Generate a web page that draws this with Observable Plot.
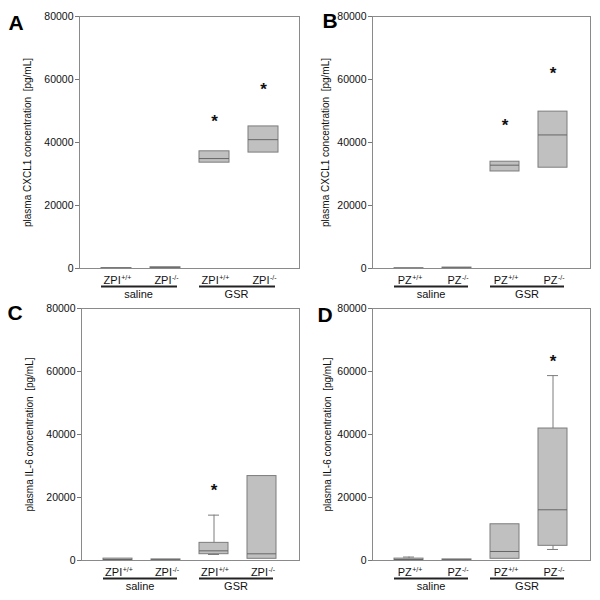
<!DOCTYPE html>
<html><head><meta charset="utf-8">
<script src="https://cdn.jsdelivr.net/npm/d3@7"></script>
<script src="https://cdn.jsdelivr.net/npm/@observablehq/plot@0.6"></script>
<style>
body{margin:0;background:#fff;}
#wrap{position:relative;width:600px;height:600px;font-family:"Liberation Sans",Arial,sans-serif;}
.panel{position:absolute;}
</style></head><body><div id="wrap"></div>
<script>
// ---- data ----
const categories = ["saline:+/+", "saline:-/-", "GSR:+/+", "GSR:-/-"];
const genotypes = ["+/+", "-/-", "+/+", "-/-"];
const groupNames = ["saline", "GSR"];
const groupStart = ["saline:+/+", "GSR:+/+"];
const groupEnd = ["saline:-/-", "GSR:-/-"];
const yTicks = [0, 20000, 40000, 60000, 80000];
const yDomain = [0, 80000];

const panelLetters = ["A", "B", "C", "D"];
const geneNames = ["ZPI", "PZ", "ZPI", "PZ"];
const yLabels = [
  "plasma CXCL1 concentration\u00a0 [pg/mL]",
  "plasma CXCL1 concentration\u00a0 [pg/mL]",
  "plasma IL-6 concentration\u00a0 [pg/mL]",
  "plasma IL-6 concentration\u00a0 [pg/mL]"
];

// panel A (CXCL1, ZPI)
const q1A = [0, 100, 33600, 36800];
const medA = [60, 200, 34900, 40900];
const q3A = [150, 400, 37200, 45100];
const loA = [null, null, null, null];
const hiA = [null, null, null, null];
const starA = [null, null, 47600, 57800];

// panel B (CXCL1, PZ)
const q1B = [0, 50, 30800, 32000];
const medB = [50, 150, 32800, 42400];
const q3B = [100, 300, 33900, 49800];
const loB = [null, null, null, null];
const hiB = [null, null, null, null];
const starB = [null, null, 46300, 62600];

// panel C (IL-6, ZPI)
const q1C = [150, 100, 2000, 540];
const medC = [300, 200, 3070, 2120];
const q3C = [600, 350, 5600, 26800];
const loC = [null, null, 1900, null];
const hiC = [null, null, 14400, null];
const starC = [null, null, 22950, null];

// panel D (IL-6, PZ)
const q1D = [150, 100, 540, 4660];
const medD = [300, 200, 2860, 16100];
const q3D = [600, 350, 11500, 41900];
const loD = [null, null, null, 3500];
const hiD = [1100, null, null, 58700];
const starD = [null, null, null, 64000];

// ---- layout (styling only) ----
const layouts = [
  {left: 0,   top: 0,   mL: 79, mR: 1,  mT: 16, mB: 32, labelDx: -52, letterDx: -71, letterDy: -1},
  {left: 300, top: 0,   mL: 72, mR: 10, mT: 16, mB: 32, labelDx: -47, letterDx: -50, letterDy: -3},
  {left: 0,   top: 300, mL: 81, mR: 1,  mT: 8,  mB: 40, labelDx: -52, letterDx: -74, letterDy: -3},
  {left: 300, top: 300, mL: 72, mR: 10, mT: 8,  mB: 40, labelDx: -45, letterDx: -55, letterDy: -1}
];

const panelData = [
  [q1A, medA, q3A, loA, hiA, starA],
  [q1B, medB, q3B, loB, hiB, starB],
  [q1C, medC, q3C, loC, hiC, starC],
  [q1D, medD, q3D, loD, hiD, starD]
];

const FONT = '"Liberation Sans", Arial, sans-serif';
const canvas = document.createElement("canvas");
const ctx = canvas.getContext("2d");
function textW(s, size) { ctx.font = `${size}px ${FONT}`; return ctx.measureText(s).width; }

const BASE_FS = 11, SUP_FS = 7;
const boxFill = "#c0c0c0", boxStroke = "#7c7c7c", medStroke = "#666", textCol = "#111";

const wrap = document.getElementById("wrap");

panelData.forEach(([q1, med, q3, lo, hi, star], p) => {
  const L = layouts[p];
  const rows = categories.map((c, i) => ({cat: c, q1: q1[i], med: med[i], q3: q3[i], lo: lo[i], hi: hi[i], star: star[i]}));
  const groups = groupNames.map((g, i) => ({name: g, start: groupStart[i], end: groupEnd[i]}));

  // category label marks (base + superscript), centred on each category
  const labelMarks = [];
  categories.forEach((c, i) => {
    const base = geneNames[p], sup = genotypes[i];
    const bw = textW(base, BASE_FS), sw = textW(sup, SUP_FS);
    const total = bw + 0.5 + sw;
    const shift = bw - total / 2 + 1;
    labelMarks.push(Plot.text([c], {x: d => d, frameAnchor: "bottom", text: () => base,
      textAnchor: "end", lineAnchor: "top", dx: shift, dy: 8, fontSize: BASE_FS, fill: textCol}));
    labelMarks.push(Plot.text([c], {x: d => d, frameAnchor: "bottom", text: () => sup,
      textAnchor: "start", lineAnchor: "top", dx: shift + 0.5, dy: 7, fontSize: SUP_FS, fill: textCol}));
  });

  const svg = Plot.plot({
    width: 300, height: 300,
    marginLeft: L.mL, marginRight: L.mR, marginTop: L.mT, marginBottom: L.mB,
    style: {fontFamily: FONT, fontSize: "10.5px", color: textCol, background: "transparent", overflow: "visible"},
    x: {type: "band", domain: categories, paddingInner: 0.39, paddingOuter: 0.43, axis: null},
    y: {domain: yDomain, ticks: yTicks, tickFormat: d3.format("d"), tickSize: 4, tickPadding: 2, label: null},
    marks: [
      Plot.barY(rows, {x: "cat", y1: "q1", y2: "q3", fill: boxFill, stroke: boxStroke, strokeWidth: 1}),
      Plot.tickY(rows, {x: "cat", y: "med", stroke: medStroke, strokeWidth: 1}),
      Plot.ruleX(rows.filter(d => d.hi != null), {x: "cat", y1: "q3", y2: "hi", stroke: boxStroke}),
      Plot.tickY(rows.filter(d => d.hi != null), {x: "cat", y: "hi", insetLeft: 9, insetRight: 9, stroke: boxStroke}),
      Plot.ruleX(rows.filter(d => d.lo != null), {x: "cat", y1: "lo", y2: "q1", stroke: boxStroke}),
      Plot.tickY(rows.filter(d => d.lo != null), {x: "cat", y: "lo", insetLeft: 9, insetRight: 9, stroke: boxStroke}),
      Plot.text(rows.filter(d => d.star != null), {x: "cat", y: "star", text: () => "*", fontSize: 17,
        fontWeight: "bold", lineAnchor: "top", dy: -4, fill: textCol}),
      Plot.frame({stroke: "#8a8a8a"}),
      Plot.axisY({ticks: yTicks, tickFormat: d3.format("d"), tickSize: 4, tickPadding: 2, label: null,
        stroke: "#777", fill: textCol, fontSize: 10.5}),
      ...labelMarks,
      Plot.ruleY(groups, {x1: "start", x2: "end", y: () => 0, dy: 18, insetLeft: 0, insetRight: 3,
        stroke: "#222", strokeWidth: 2}),
      Plot.text(groups, {x: "start", frameAnchor: "bottom", text: "name", dx: 22, dy: 22,
        lineAnchor: "top", fontSize: 11, fill: textCol}),
      Plot.text([yLabels[p]], {frameAnchor: "left", text: d => d, rotate: -90, dx: L.labelDx,
        textAnchor: "middle", fontSize: 10, fill: textCol}),
      Plot.text([panelLetters[p]], {frameAnchor: "top-left", text: d => d, dx: L.letterDx, dy: L.letterDy,
        textAnchor: "start", lineAnchor: "top", fontSize: 21, fontWeight: "bold", fill: "#000"})
    ]
  });
  const div = document.createElement("div");
  div.className = "panel";
  div.style.left = L.left + "px";
  div.style.top = L.top + "px";
  div.appendChild(svg);
  wrap.appendChild(div);
});
</script>
</body></html>
